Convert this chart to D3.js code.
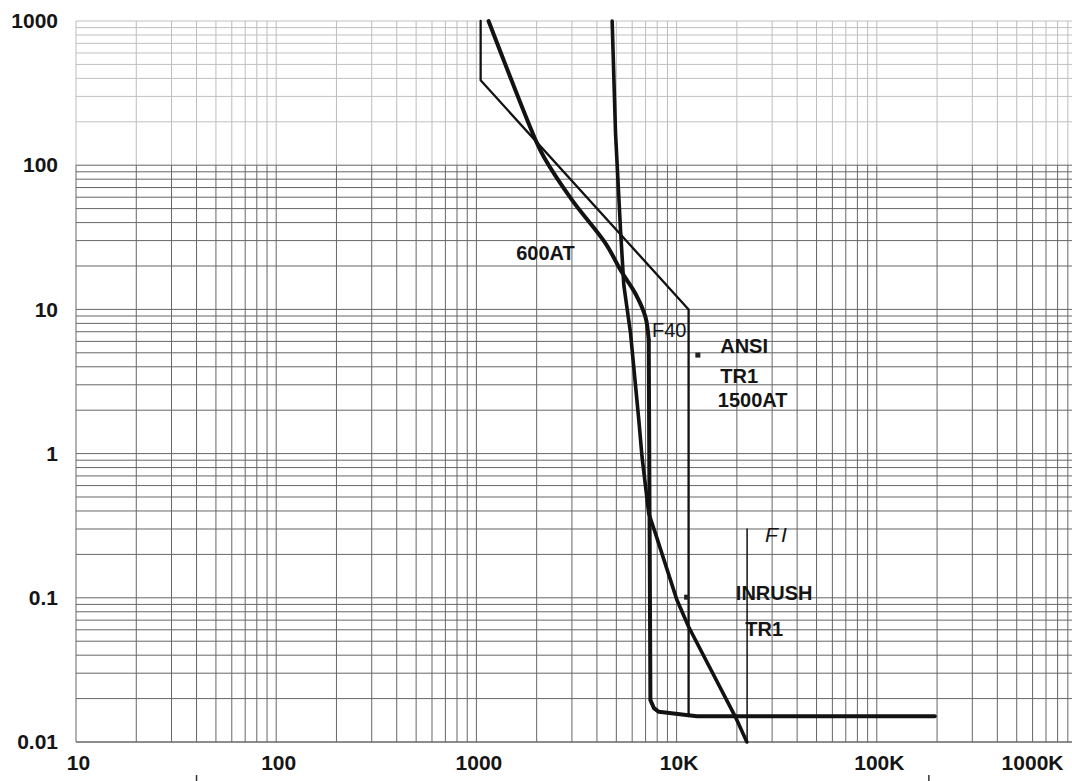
<!DOCTYPE html>
<html>
<head>
<meta charset="utf-8">
<script src="https://cdn.jsdelivr.net/npm/d3@7"></script>
<style>
  body { margin: 0; background: #fff; }
  svg { display: block; }
  .tick text { font-family: "Liberation Sans", Arial, sans-serif; font-weight: bold; font-size: 21px; fill: #151515; }
  .lbl { font-family: "Liberation Sans", Arial, sans-serif; font-weight: bold; font-size: 20px; fill: #151515; }
</style>
</head>
<body>
<div id="chart"></div>
<script>
// axis ticks
const xTickValues = [10, 100, 1000, 10000, 100000, 1000000];
const xTickLabels = ["10", "100", "1000", "10K", "100K", "1000K"];
const yTickValues = [0.01, 0.1, 1, 10, 100, 1000];
const yTickLabels = ["0.01", "0.1", "1", "10", "100", "1000"];

// TR1 1500AT breaker band (thin line)
const tr1Current = [1050, 1050, 11480, 11480];
const tr1Time = [1000, 388, 10, 0.0151];

// F40 curve (thick): smooth melting part, then vertical drop and flat bottom
const f40Current = [1150, 1977, 2173, 3006, 4416, 5300, 6223, 6986, 7258, 7400, 7700, 8150, 12620, 195000];
const f40Time = [1000, 149, 114, 57.2, 28.7, 18.3, 12.9, 8.88, 6.12, 0.0195, 0.0172, 0.0162, 0.0151, 0.0151];
const f40SmoothEnd = 8; // index where the smooth part stops

// 600AT curve (thick, steep)
const at600Current = [4765, 4955, 5248, 5450, 5890, 6475, 6718, 7258, 7838, 10040, 11480, 19630, 22440];
const at600Time = [1000, 166, 35.4, 14.7, 6.8, 1.71, 0.95, 0.385, 0.28, 0.0964, 0.063, 0.015, 0.01];

// fault current marker
const fiCurrent = [22500, 22500];
const fiTime = [0.30, 0.01];

// points: ANSI, INRUSH
const pointNames = ["ANSI", "INRUSH"];
const pointCurrent = [12770, 11220];
const pointTime = [4.82, 0.101];

// text labels
const labelText = ["600AT", "F40", "ANSI", "TR1", "1500AT", "FI", "INRUSH", "TR1"];
const labelCurrent = [1581, 7536, 16520, 16520, 16070, 27670, 19770, 22030];
const labelTime = [21.9, 6.43, 4.95, 3.07, 2.11, 0.245, 0.0964, 0.0543];

const width = 1072, height = 781;

const svg = d3.select("#chart").append("svg")
  .attr("width", width)
  .attr("height", height);

const x = d3.scaleLog().domain([10, 1000000]).range([76, 1077]);
const y = d3.scaleLog().domain([0.01, 1000]).range([742, 21]);

// grid lines, 1..9 in every decade
const xGrid = [];
for (let p = 1; p <= 5; p++) for (let m = 1; m <= 9; m++) xGrid.push(m * Math.pow(10, p));
xGrid.push(1000000);
const yGrid = [];
for (let p = -2; p <= 2; p++) for (let m = 1; m <= 9; m++) yGrid.push(+(m * Math.pow(10, p)).toPrecision(3));
yGrid.push(1000);

const grid = svg.append("g").attr("class", "grid");

// upper decade of the sheet is faded
grid.selectAll(".vfade")
  .data(xGrid)
  .join("line")
  .attr("class", "vfade")
  .attr("x1", d => x(d)).attr("x2", d => x(d))
  .attr("y1", y(1000)).attr("y2", y(100))
  .attr("stroke", "#bdbdbd")
  .attr("stroke-width", 1);

grid.selectAll(".vline")
  .data(xGrid)
  .join("line")
  .attr("class", "vline")
  .attr("x1", d => x(d)).attr("x2", d => x(d))
  .attr("y1", y(100)).attr("y2", y(0.01))
  .attr("stroke", "#666")
  .attr("stroke-width", 1);

grid.selectAll(".hline")
  .data(yGrid)
  .join("line")
  .attr("class", "hline")
  .attr("x1", x(10)).attr("x2", width)
  .attr("y1", d => y(d)).attr("y2", d => y(d))
  .attr("stroke", d => d > 100 ? "#c0c0c0" : "#666")
  .attr("stroke-width", 1);

// axes
const xAxis = d3.axisBottom(x)
  .tickValues(xTickValues)
  .tickFormat((d, i) => xTickLabels[i])
  .tickSize(0)
  .tickPadding(13);

const gx = svg.append("g")
  .attr("transform", `translate(0,${y(0.01)})`)
  .call(xAxis);
gx.select(".domain").attr("stroke", "#666").attr("d", `M${x(10)},0H${width}`);
gx.selectAll(".tick text").attr("dx", 2);
gx.selectAll(".tick").filter(d => d === 1000000)
  .select("text").attr("text-anchor", "end").attr("dx", -14);

const yAxis = d3.axisLeft(y)
  .tickValues(yTickValues)
  .tickFormat((d, i) => yTickLabels[i])
  .tickSize(0)
  .tickPadding(18);

const gy = svg.append("g")
  .attr("transform", `translate(${x(10)},0)`)
  .call(yAxis);
gy.select(".domain").remove();

// curves
const line = d3.line()
  .x(d => x(d[0]))
  .y(d => y(d[1]));

const smoothLine = d3.line()
  .x(d => x(d[0]))
  .y(d => y(d[1]))
  .curve(d3.curveCatmullRom.alpha(0.5));

const zip = (a, b) => a.map((v, i) => [v, b[i]]);

const curves = svg.append("g").attr("fill", "none").attr("stroke", "#121212")
  .attr("stroke-linejoin", "round").attr("stroke-linecap", "round");

curves.append("path")
  .attr("d", line(zip(tr1Current, tr1Time)))
  .attr("stroke-width", 2.3);

const f40 = zip(f40Current, f40Time);
curves.append("path")
  .attr("d", smoothLine(f40.slice(0, f40SmoothEnd + 1)))
  .attr("stroke-width", 4);
curves.append("path")
  .attr("d", line(f40.slice(f40SmoothEnd)))
  .attr("stroke-width", 4);

curves.append("path")
  .attr("d", line(zip(at600Current, at600Time)))
  .attr("stroke-width", 3.6);

curves.append("path")
  .attr("d", line(zip(fiCurrent, fiTime)))
  .attr("stroke-width", 1.5);

// point markers
svg.selectAll(".pt")
  .data(pointNames)
  .join("rect")
  .attr("class", "pt")
  .attr("x", (d, i) => x(pointCurrent[i]) - 2.5)
  .attr("y", (d, i) => y(pointTime[i]) - 2.5)
  .attr("width", 5)
  .attr("height", 5)
  .attr("fill", "#222");

// labels
svg.selectAll(".lbl")
  .data(labelText)
  .join("text")
  .attr("class", "lbl")
  .attr("x", (d, i) => x(labelCurrent[i]))
  .attr("y", (d, i) => y(labelTime[i]))
  .style("font-weight", d => (d === "F40" || d === "FI") ? "normal" : "bold")
  .style("font-style", d => d === "FI" ? "italic" : "normal")
  .style("font-size", d => d === "FI" ? "21px" : null)
  .style("letter-spacing", d => d === "FI" ? "3px" : null)
  .text(d => d);

// stray tick marks under the axis on the scanned sheet
const strayMarks = [40, 182000];
svg.selectAll(".stray")
  .data(strayMarks)
  .join("line")
  .attr("x1", d => x(d)).attr("x2", d => x(d))
  .attr("y1", height - 6).attr("y2", height)
  .attr("stroke", "#333")
  .attr("stroke-width", 1.5);
</script>
</body>
</html>
